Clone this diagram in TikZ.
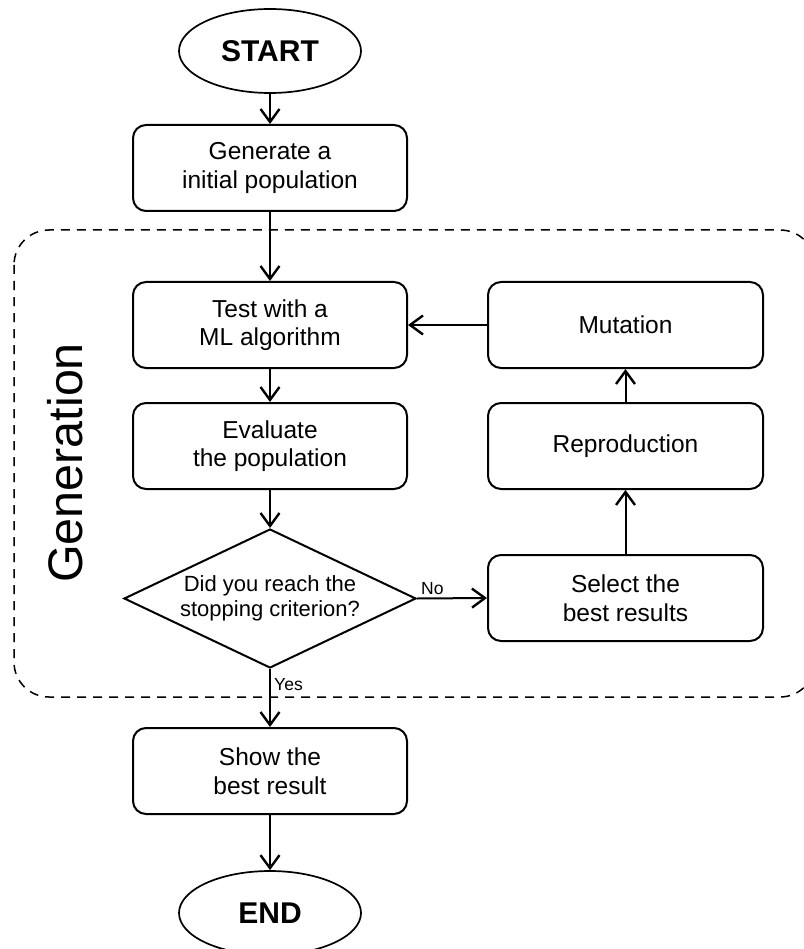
\documentclass[tikz,border=0pt]{standalone}
\usepackage{fontspec}
\setmainfont{Liberation Sans}
\usetikzlibrary{shapes.geometric,arrows.meta}
\begin{document}
\begin{tikzpicture}[x=1pt,y=-1pt,
  box/.style={draw, line width=2pt, rounded corners=13pt, minimum width=274pt, minimum height=86pt, inner sep=0pt, align=center, font=\fontsize{24.5}{28.5}\selectfont},
  term/.style={draw, ellipse, line width=1.7pt, minimum width=182pt, minimum height=84pt, inner sep=0pt, font=\fontsize{30}{34}\selectfont\bfseries},
  decision/.style={draw, diamond, line width=2pt, minimum width=292pt, minimum height=139pt, inner sep=0pt, shape aspect=2.1, align=center, font=\fontsize{22}{25}\selectfont},
  arr/.style={line width=2pt, -{Straight Barb[length=13pt,width=19pt,line width=2.4pt]}},
  lbl/.style={font=\fontsize{17.5}{20}\selectfont, inner sep=0pt},
  group/.style={line width=1.5pt, dash pattern=on 9pt off 7pt, rounded corners=35pt}]
\useasboundingbox (0,0) rectangle (803,949);
\fill[white] (0,0) rectangle (803,949);
% dashed generation region
\draw[group] (14,230) rectangle (815,697);
\node[rotate=90, inner sep=0pt, font=\fontsize{48.5}{52}\selectfont] (genlabel) at (65,463) {Generation};
% nodes
\node[term] (start) at (270,51) {START};
\node[box] (gen) at (270,168) {Generate a\\initial population};
\node[box] (test) at (270,325) {Test with a\\ML algorithm};
\node[box] (eval) at (270,446) {Evaluate\\the population};
\node[decision] (dec) at (270,598.5) {Did you reach the\\stopping criterion?};
\node[box] (show) at (270,771) {Show the\\best result};
\node[term] (end) at (270,913) {END};
\node[box, minimum width=275pt] (mut) at (625.5,325) {Mutation};
\node[box, minimum width=275pt] (rep) at (625.5,446) {Reproduction};
\node[box, minimum width=275pt] (sel) at (625.5,598) {Select the\\best results};
% connectors
\draw[arr] (start) -- (gen);
\draw[arr] (gen) -- (test);
\draw[arr] (test) -- (eval);
\draw[arr] (eval) -- (dec);
\draw[arr] (dec) -- (show);
\draw[arr] (show) -- (end);
\draw[arr] (dec.east) -- (sel.west);
\draw[arr] (sel) -- (rep);
\draw[arr] (rep) -- (mut);
\draw[arr] (mut.west) -- (test.east);
% labels
\node[lbl, anchor=base west] (nolbl) at (421,594) {No};
\node[lbl, anchor=base west] (yeslbl) at (274,690) {Yes};
\end{tikzpicture}
\end{document}
